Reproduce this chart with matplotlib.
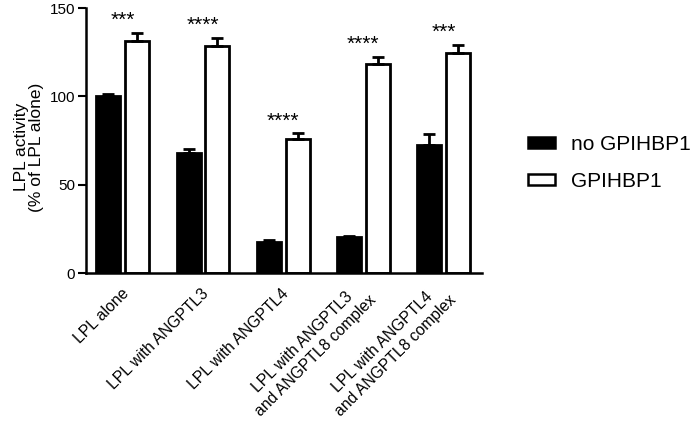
import numpy as np
import matplotlib.pyplot as plt
from matplotlib.patches import Patch
from matplotlib.transforms import ScaledTranslation

plt.rcParams['font.family'] = ['Liberation Sans', 'DejaVu Sans']

# data
categories = ["LPL alone", "LPL with ANGPTL3", "LPL with ANGPTL4",
              "LPL with ANGPTL3\nand ANGPTL8 complex",
              "LPL with ANGPTL4\nand ANGPTL8 complex"]
no_gpihbp1 = [100, 68, 17.5, 20.3, 72.3]
no_gpihbp1_err = [1.5, 2, 1, 0.7, 6.4]
gpihbp1 = [131.5, 128.3, 76, 118.3, 124.8]
gpihbp1_err = [4.5, 5, 3, 4, 4.3]
stars = ["***", "****", "****", "****", "***"]


def plot_bars():
    fig = plt.figure(figsize=(6.97, 4.22), dpi=100)
    ax = fig.add_axes([0.1234, 0.353, 0.568, 0.628])

    x = np.arange(len(categories))
    w = 0.3
    off = 0.18
    lw = 2.0

    ax.bar(x - off, no_gpihbp1, w, color='black', edgecolor='black', linewidth=lw)
    ax.bar(x + off, gpihbp1, w, color='white', edgecolor='black', linewidth=lw)

    ax.errorbar(x - off, no_gpihbp1, yerr=[np.zeros(len(x)), no_gpihbp1_err],
                fmt='none', ecolor='black', elinewidth=lw, capsize=4.5, capthick=lw)
    ax.errorbar(x + off, gpihbp1, yerr=[np.zeros(len(x)), gpihbp1_err],
                fmt='none', ecolor='black', elinewidth=lw, capsize=4.5, capthick=lw)

    # significance stars above each pair
    for i in range(len(x)):
        ax.text(x[i], gpihbp1[i] + gpihbp1_err[i] + 4, stars[i],
                ha='center', va='baseline', fontsize=15)

    ax.set_xlim(-0.46, 4.48)
    ax.set_ylim(0, 150)
    ax.set_yticks([0, 50, 100, 150])
    ax.tick_params(axis='y', labelsize=11, width=1.5, length=6, pad=2, direction='out')
    ax.tick_params(axis='x', length=0, pad=13)
    ax.set_xticks(x)
    ax.set_xticklabels(categories, rotation=45, ha='right', va='center',
                       rotation_mode='anchor', fontsize=11.3, linespacing=1.3,
                       multialignment='center')
    shift = ScaledTranslation(2.5 / 72, 0, fig.dpi_scale_trans)
    for lab in ax.get_xticklabels():
        lab.set_transform(lab.get_transform() + shift)

    for s in ['top', 'right']:
        ax.spines[s].set_visible(False)
    for s in ['left', 'bottom']:
        ax.spines[s].set_linewidth(1.8)
    ax.set_ylabel("LPL activity\n(% of LPL alone)", fontsize=12.5, linespacing=1.05)
    ax.yaxis.set_label_coords(-0.105, 0.475)

    handles = [Patch(facecolor='black', edgecolor='black', linewidth=1.8),
               Patch(facecolor='white', edgecolor='black', linewidth=1.8)]
    fig.legend(handles, ["no GPIHBP1", "GPIHBP1"], loc='upper left',
               bbox_to_anchor=(0.758, 0.68), frameon=False, fontsize=15,
               handlelength=1.3, handleheight=0.4, handletextpad=0.75,
               labelspacing=0.85, borderpad=0, borderaxespad=0)

    fig.savefig("out.png", dpi=100)


if __name__ == "__main__":
    plot_bars()
